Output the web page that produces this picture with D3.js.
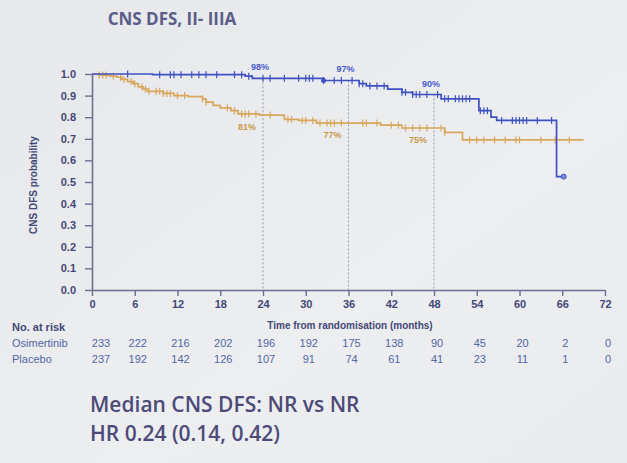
<!DOCTYPE html>
<html>
<head>
<meta charset="utf-8">
<script src="https://cdn.jsdelivr.net/npm/d3@7"></script>
<style>
  body { margin: 0; background: #e8eaed; }
  svg { display: block; }
</style>
</head>
<body>
<div id="plot"></div>
<script>
// Chart data
var title = "CNS DFS, II- IIIA";
var xTicks = [0, 6, 12, 18, 24, 30, 36, 42, 48, 54, 60, 66, 72];
var yTicks = [0, 0.1, 0.2, 0.3, 0.4, 0.5, 0.6, 0.7, 0.8, 0.9, 1.0];

// step curves: [month, survival]
var osiSteps = [[0, 1.0], [8.5, 0.997], [21.5, 0.99], [22.5, 0.98], [32.5, 0.97], [37.5, 0.955],
  [38.5, 0.945], [41.5, 0.93], [43.5, 0.915], [45, 0.905], [49, 0.885], [54.3, 0.83],
  [56, 0.8], [56.8, 0.785], [65.2, 0.525], [66.2, 0.525]];
var plaSteps = [[0, 1.0], [1, 0.995], [2.5, 0.99], [3.5, 0.985], [4.2, 0.975], [5, 0.965],
  [5.8, 0.955], [6.5, 0.94], [7.2, 0.93], [7.8, 0.92], [10, 0.91], [11.5, 0.9], [13.5, 0.895],
  [15.5, 0.885], [16, 0.87], [17, 0.855], [18, 0.843], [19.5, 0.83], [20.5, 0.815], [23.5, 0.81],
  [27, 0.79], [29, 0.785], [31.5, 0.773], [40.5, 0.763], [43.5, 0.75], [49.5, 0.73], [52, 0.695],
  [69, 0.695]];

// censor marks (months)
var osiCensor = [5, 9.5, 11, 11.5, 12.5, 14, 15, 16, 17.5, 20, 21, 22, 24, 25, 27, 29, 30, 30.5, 31,
  32.5, 34, 35, 36.5, 37.5, 38, 39, 40, 41, 43.5, 44, 45, 45.5, 46, 47, 48.5, 49.5, 50, 51, 51.5,
  52, 52.5, 53, 54.5, 55, 55.5, 57.5, 59, 59.5, 60, 60.5, 61, 62.5, 64.5];
var plaCensor = [1, 1.5, 2, 3, 4, 4.5, 5.5, 6, 7, 7.5, 8, 9, 9.5, 10, 10.5, 11, 12, 13, 15.5, 16,
  19, 20, 21, 21.5, 22, 23, 25, 27.5, 28, 29.5, 30, 31, 32, 33, 33.5, 34, 35, 38, 38.5, 40, 42, 43,
  44, 45, 46, 47, 49, 49.5, 53, 54, 55, 56.5, 58, 59.5, 60, 63, 65, 67];

// landmark labels
var landmarks = [24, 36, 48];
var osiLandmarkLabels = ["98%", "97%", "90%"];
var plaLandmarkLabels = ["81%", "77%", "75%"];

// number at risk
var osiRisk = [233, 222, 216, 202, 196, 192, 175, 138, 90, 45, 20, 2, 0];
var plaRisk = [237, 192, 142, 126, 107, 91, 74, 61, 41, 23, 11, 1, 0];

var svgWidth = 627;
var svgHeight = 463;

var blue = "#3f51c2";
var gold = "#d8a75c";
var navy = "#444876";
var narrow = "'Liberation Sans Narrow', 'Liberation Sans', sans-serif";

var svg = d3.select("#plot")
  .append("svg")
  .attr("width", svgWidth)
  .attr("height", svgHeight);

// background, slightly uneven like a photographed slide
var grad = svg.append("defs").append("linearGradient")
  .attr("id", "bg").attr("x1", 0).attr("y1", 0).attr("x2", 1).attr("y2", 1);
grad.append("stop").attr("offset", "0%").attr("stop-color", "#e6e8eb");
grad.append("stop").attr("offset", "60%").attr("stop-color", "#eceef0");
grad.append("stop").attr("offset", "100%").attr("stop-color", "#e9ebee");
svg.append("rect").attr("width", svgWidth).attr("height", svgHeight).attr("fill", "url(#bg)");

// title
svg.append("text")
  .attr("x", 172).attr("y", 25)
  .attr("text-anchor", "middle")
  .style("font-family", "Open Sans")
  .style("font-weight", "bold")
  .style("font-size", "17px")
  .style("fill", "#5a5d88")
  .text(title);

// scales
var x = d3.scaleLinear().domain([0, 72]).range([92, 605]);
var y = d3.scaleLinear().domain([0, 1]).range([290, 74]);

// axes
var leftAxis = d3.axisLeft(y).tickValues(yTicks).tickFormat(d3.format(".1f")).tickSize(7).tickSizeOuter(0);
var bottomAxis = d3.axisBottom(x).tickValues(xTicks).tickFormat(d3.format("d")).tickSize(6).tickSizeOuter(0);

var yAx = svg.append("g").attr("transform", "translate(92,0)").call(leftAxis);
var xAx = svg.append("g").attr("transform", "translate(0,290)").call(bottomAxis);

[yAx, xAx].forEach(function(g) {
  g.select(".domain").attr("stroke", "#6b6f90").attr("stroke-width", 1.6);
  g.selectAll(".tick line").attr("stroke", "#6b6f90").attr("stroke-width", 1.4);
  g.selectAll(".tick text")
    .style("font-family", narrow)
    .style("font-weight", "bold")
    .style("font-size", "11px")
    .style("fill", navy);
});
yAx.selectAll(".tick text").attr("x", -16);
xAx.selectAll(".tick text").attr("y", 10);

// axis titles
svg.append("text")
  .attr("transform", "translate(37,185) rotate(-90)")
  .attr("text-anchor", "middle")
  .style("font-family", narrow)
  .style("font-weight", "bold")
  .style("font-size", "10px")
  .style("fill", navy)
  .text("CNS DFS probability");

svg.append("text")
  .attr("x", 350).attr("y", 329)
  .attr("text-anchor", "middle")
  .style("font-family", narrow)
  .style("font-weight", "bold")
  .style("font-size", "10px")
  .style("fill", navy)
  .text("Time from randomisation (months)");

// step lookup
function survAt(steps, t) {
  var s = steps[0][1];
  steps.forEach(function(d) { if (d[0] <= t) s = d[1]; });
  return s;
}

// landmark dashed lines
svg.selectAll(".landmark")
  .data(landmarks)
  .enter()
  .append("line")
  .attr("x1", d => x(d)).attr("x2", d => x(d))
  .attr("y1", d => y(survAt(osiSteps, d)))
  .attr("y2", y(0))
  .attr("stroke", "#9a9cab")
  .attr("stroke-width", 1)
  .attr("stroke-dasharray", "2,2");

var drawStep = d3.line()
  .x(d => x(d[0]))
  .y(d => y(d[1]))
  .curve(d3.curveStepAfter);

function drawCurve(steps, censor, color) {
  svg.append("path")
    .attr("d", drawStep(steps))
    .attr("fill", "none")
    .attr("stroke", color)
    .attr("stroke-width", 1.7);
  svg.selectAll(null)
    .data(censor)
    .enter()
    .append("line")
    .attr("x1", d => x(d)).attr("x2", d => x(d))
    .attr("y1", d => y(survAt(steps, d)) - 3.5)
    .attr("y2", d => y(survAt(steps, d)) + 3.5)
    .attr("stroke", color)
    .attr("stroke-width", 1.2);
}

drawCurve(plaSteps, plaCensor, gold);
drawCurve(osiSteps, osiCensor, blue);

// end markers
var osiEnd = osiSteps[osiSteps.length - 1];
svg.append("circle")
  .attr("cx", x(osiEnd[0])).attr("cy", y(osiEnd[1]))
  .attr("r", 2.5)
  .attr("fill", "#8090d8")
  .attr("stroke", blue);
svg.append("circle")
  .attr("cx", x(32.5)).attr("cy", y(survAt(osiSteps, 32.5)))
  .attr("r", 2.5)
  .attr("fill", blue);

// landmark labels
svg.selectAll(".osiLab")
  .data(landmarks)
  .enter()
  .append("text")
  .attr("x", d => x(d) - 3)
  .attr("y", d => y(survAt(osiSteps, d)) - 8)
  .attr("text-anchor", "middle")
  .style("font-family", narrow)
  .style("font-weight", "bold")
  .style("font-size", "9px")
  .style("fill", "#4a5ccc")
  .text((d, i) => osiLandmarkLabels[i]);

svg.selectAll(".plaLab")
  .data(landmarks)
  .enter()
  .append("text")
  .attr("x", d => x(d) - 16)
  .attr("y", d => y(survAt(plaSteps, d)) + 15)
  .attr("text-anchor", "middle")
  .style("font-family", narrow)
  .style("font-weight", "bold")
  .style("font-size", "9px")
  .style("fill", "#c99a4c")
  .text((d, i) => plaLandmarkLabels[i]);

// number at risk table
svg.append("text")
  .attr("x", 12).attr("y", 331)
  .style("font-family", narrow)
  .style("font-weight", "bold")
  .style("font-size", "11px")
  .style("fill", navy)
  .text("No. at risk");

var rows = [
  { name: "Osimertinib", vals: osiRisk, y: 347 },
  { name: "Placebo", vals: plaRisk, y: 363 }
];

rows.forEach(function(r) {
  svg.append("text")
    .attr("x", 12).attr("y", r.y)
    .style("font-family", narrow)
    .style("font-size", "11px")
    .style("fill", "#5466a4")
    .text(r.name);
  svg.selectAll(null)
    .data(r.vals)
    .enter()
    .append("text")
    .attr("x", (d, i) => x(xTicks[i]) + (i === 0 ? 9 : 3))
    .attr("y", r.y)
    .attr("text-anchor", "middle")
    .style("font-family", narrow)
    .style("font-size", "11px")
    .style("fill", "#5466a4")
    .text(d => d);
});

// summary text
var summary = ["Median CNS DFS: NR vs NR", "HR 0.24 (0.14, 0.42)"];
svg.selectAll(".summary")
  .data(summary)
  .enter()
  .append("text")
  .attr("x", 90)
  .attr("y", (d, i) => 412 + i * 29)
  .style("font-family", "Open Sans")
  .style("font-weight", "600")
  .style("font-size", "21px")
  .style("fill", "#4d4a78")
  .text(d => d);
</script>
</body>
</html>
